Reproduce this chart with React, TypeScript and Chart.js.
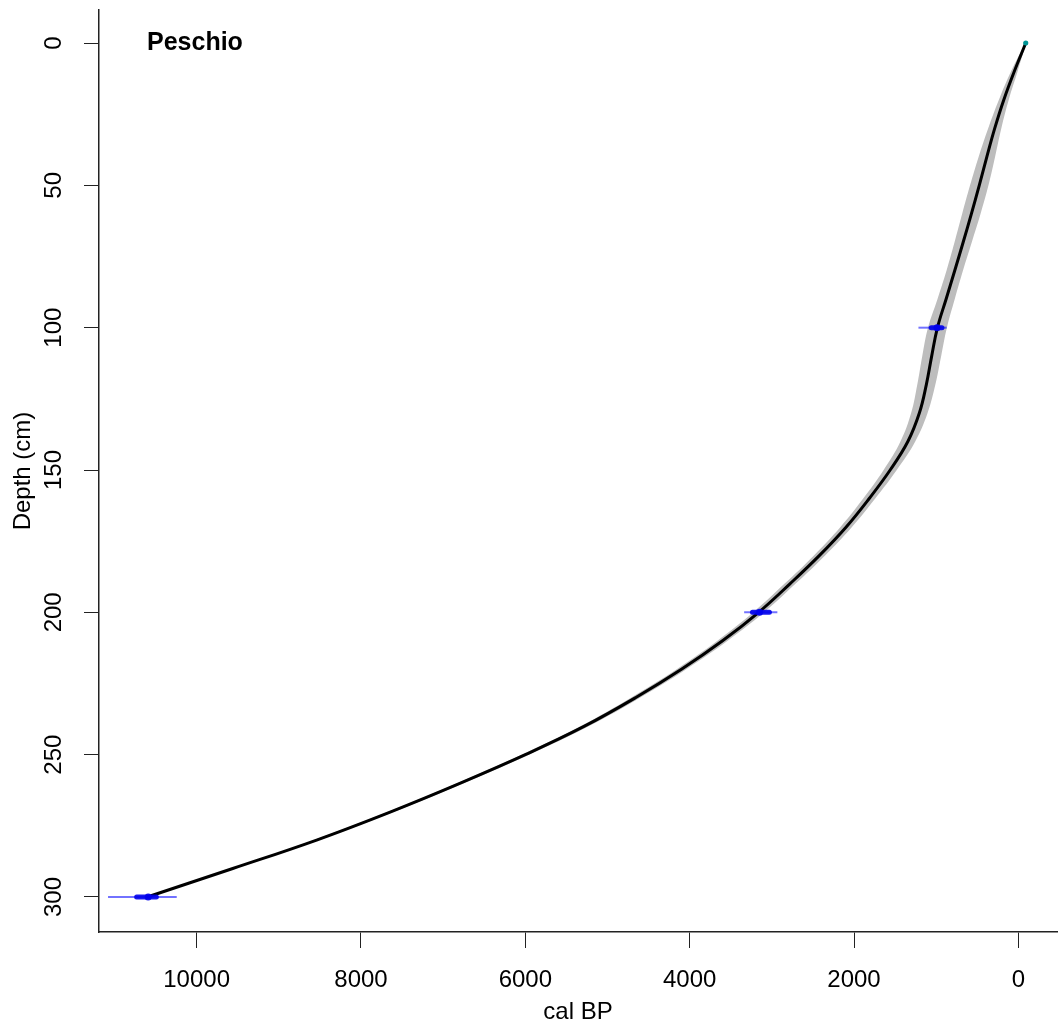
import React, { useEffect, useRef } from 'react';
import { Chart, registerables } from 'chart.js';

Chart.register(...registerables);

// Age-depth model (cal BP vs depth in cm)
const depths = [0, 10, 20, 30, 40, 50, 60, 70, 80, 90, 100, 110, 120, 130, 140, 150, 160, 170, 180, 190, 200, 210, 220, 230, 240, 250, 260, 270, 280, 290, 300];
const meanAges = [-90, 50, 178, 288, 384, 476, 572, 672, 775, 880, 985, 1055, 1120, 1205, 1345, 1560, 1815, 2095, 2420, 2780, 3160, 3600, 4100, 4660, 5280, 6000, 6790, 7630, 8540, 9560, 10600];
const bandHalfWidths = [5, 40, 60, 80, 100, 112, 112, 105, 100, 105, 115, 115, 110, 100, 90, 80, 73, 70, 68, 67, 66, 62, 58, 55, 50, 45, 40, 35, 30, 25, 20];

// Dated levels
const dateDepths = [0, 100, 200, 300];
const dateAges = [-90, 990, 3150, 10590];
const dateRangeMin = [-98, 873, 2933, 10242];
const dateRangeMax = [-82, 1216, 3337, 11078];
const dateCoreMin = [-95, 930, 3030, 10490];
const dateCoreMax = [-85, 1060, 3236, 10730];

const xTicks = [0, 2000, 4000, 6000, 8000, 10000];
const yTicks = [0, 50, 100, 150, 200, 250, 300];

const siteName = 'Peschio';
const xTitle = 'cal BP';
const yTitle = 'Depth (cm)';

const FONT = "'Liberation Sans', Arial, Helvetica, sans-serif";

export default function App() {
  const ref = useRef<HTMLCanvasElement | null>(null);

  useEffect(() => {
    document.body.style.margin = '0';
    const canvas = ref.current;
    if (!canvas) return;
    Chart.defaults.font.family = FONT;

    const bandPoints = [
      ...depths.map((d, i) => ({ x: meanAges[i] - bandHalfWidths[i], y: d })),
      ...depths.map((d, i) => ({ x: meanAges[i] + bandHalfWidths[i], y: d })).reverse(),
    ];

    const datasets: any[] = [
      {
        label: 'band',
        data: bandPoints,
        fill: 'shape',
        backgroundColor: '#bdbdbd',
        borderWidth: 0,
        borderColor: 'rgba(0,0,0,0)',
        pointRadius: 0,
        tension: 0.4,
        order: 5,
      },
      {
        label: 'model',
        data: depths.map((d, i) => ({ x: meanAges[i], y: d })),
        borderColor: '#000',
        borderWidth: 3,
        pointRadius: 0,
        fill: false,
        tension: 0.4,
        order: 4,
      },
    ];

    dateDepths.forEach((d, i) => {
      const col = d === 0 ? 'rgba(0,160,160,0.85)' : 'rgba(20,20,255,0.6)';
      const core = d === 0 ? 'rgba(0,150,150,0.95)' : 'rgba(0,0,235,0.9)';
      datasets.push({
        label: 'range' + i,
        data: [{ x: dateRangeMin[i], y: d }, { x: dateRangeMax[i], y: d }],
        borderColor: col,
        borderWidth: 2,
        pointRadius: 0,
        fill: false,
        order: 3,
      });
      datasets.push({
        label: 'core' + i,
        data: [{ x: dateCoreMin[i], y: d }, { x: dateCoreMax[i], y: d }],
        borderColor: core,
        borderWidth: d === 0 ? 4 : 5,
        borderCapStyle: 'round',
        pointRadius: 0,
        fill: false,
        order: 2,
      });
      datasets.push({
        label: 'pt' + i,
        data: [{ x: dateAges[i], y: d }],
        showLine: false,
        pointRadius: d === 0 ? 2.5 : 3.5,
        pointBackgroundColor: core,
        pointBorderWidth: 0,
        order: 1,
      });
    });

    const titlePlugin = {
      id: 'siteTitle',
      afterDraw(chart: any) {
        const { ctx, chartArea } = chart;
        ctx.save();
        ctx.font = `bold 25px ${FONT}`;
        ctx.fillStyle = '#000';
        ctx.textAlign = 'left';
        ctx.textBaseline = 'middle';
        ctx.fillText(siteName, chartArea.left + 48, chartArea.top + 33);
        ctx.restore();
      },
    };

    const chart = new Chart(canvas, {
      type: 'line',
      data: { datasets },
      options: {
        animation: false,
        responsive: false,
        devicePixelRatio: 1,
        layout: { padding: { top: 10, left: 0, right: 0, bottom: 0 } },
        plugins: { legend: { display: false }, tooltip: { enabled: false } },
        scales: {
          x: {
            type: 'linear',
            reverse: true,
            min: -470,
            max: 11188,
            afterBuildTicks: (s: any) => {
              s.ticks = xTicks.map((v) => ({ value: v }));
            },
            afterFit: (s: any) => {
              s.height = 98;
              s.paddingLeft = 0;
              s.paddingRight = 0;
            },
            grid: { display: true, drawOnChartArea: false, drawTicks: true, tickLength: 16, color: '#222', lineWidth: 1 },
            border: { display: true, color: '#222', width: 1.5 },
            ticks: {
              color: '#000', font: { size: 24 }, padding: 18, minRotation: 0, maxRotation: 0, autoSkip: false,
              callback: (v: any) => String(v),
            },
            title: { display: true, text: xTitle, color: '#000', font: { size: 24 }, padding: { top: 0, bottom: 3 } },
          },
          y: {
            type: 'linear',
            reverse: true,
            min: -11.6,
            max: 312.3,
            afterBuildTicks: (s: any) => {
              s.ticks = yTicks.map((v) => ({ value: v }));
            },
            afterFit: (s: any) => {
              s.width = 99;
              s.paddingTop = 0;
              s.paddingBottom = 0;
            },
            grid: { display: true, drawOnChartArea: false, drawTicks: true, tickLength: 15, color: '#222', lineWidth: 1 },
            border: { display: true, color: '#222', width: 1.5 },
            ticks: {
              color: '#000', font: { size: 24 }, padding: 10, minRotation: 90, maxRotation: 90, crossAlign: 'center', autoSkip: false,
              callback: (v: any) => String(v),
            },
            title: { display: true, text: yTitle, color: '#000', font: { size: 24 }, padding: { top: 9, bottom: 0 } },
          },
        },
      } as any,
      plugins: [titlePlugin],
    });

    return () => chart.destroy();
  }, []);

  return (
    <div style={{ width: 1061, height: 1030 }}>
      <canvas ref={ref} width={1061} height={1030} style={{ display: 'block' }} />
    </div>
  );
}
